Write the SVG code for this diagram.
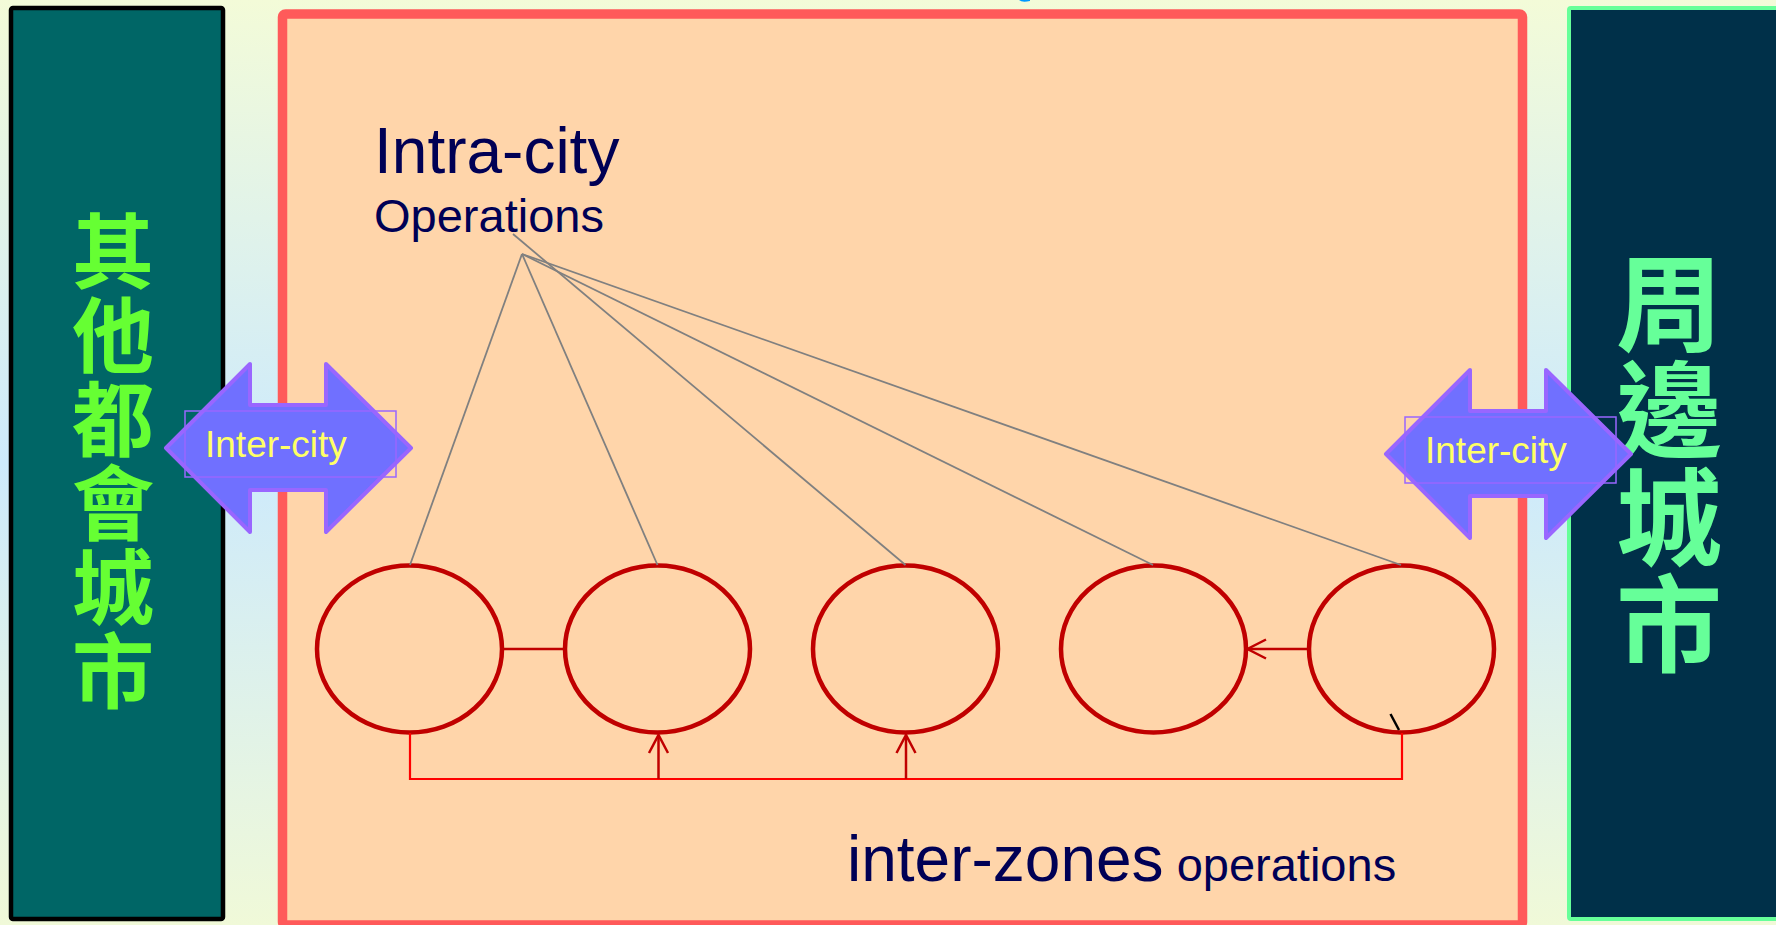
<svg xmlns="http://www.w3.org/2000/svg" width="1776" height="925" viewBox="0 0 1776 925">
  <defs>
    <linearGradient id="bg" x1="0" y1="0" x2="0" y2="1">
      <stop offset="0" stop-color="#f3fbd8"/>
      <stop offset="0.5" stop-color="#cdeafc"/>
      <stop offset="1" stop-color="#f0f9d8"/>
    </linearGradient>
    <path id="dblArrow" d="M166,448 L250,364 L250,405 L326,405 L326,364 L411,448 L326,532 L326,490 L250,490 L250,532 Z"/>
  </defs>
  <style>
    .cjk { font-family: "Noto Sans CJK TC", "Noto Sans CJK SC", sans-serif; font-weight: bold; text-anchor: middle; }
    .lbl { font-family: "Liberation Sans", Arial, sans-serif; fill: #000055; }
    .zone { fill: none; stroke: #c00000; stroke-width: 4.5; }
    .gray { stroke: #808080; stroke-width: 1.8; fill: none; }
    .dark { stroke: #c00000; stroke-width: 2.5; fill: none; }
    .red { stroke: #ff0000; stroke-width: 2.2; fill: none; }
    .arrowShape { fill: #7070ff; stroke: #9966ff; stroke-width: 4; stroke-linejoin: round; }
    .arrowBox { fill: none; stroke: #9966ff; stroke-width: 1.5; }
    .arrowText { font-family: "Liberation Sans", Arial, sans-serif; font-size: 37px; fill: #ffff66; }
  </style>

  <!-- background -->
  <rect x="0" y="0" width="1776" height="925" fill="url(#bg)"/>
  <!-- descender tail of the title above the frame -->
  <path d="M1019,0 Q1022,3 1030,1 L1030,0 Z" fill="#0099ff"/>

  <!-- other metropolitan cities -->
  <g id="node-other-cities">
    <rect x="11" y="8" width="212" height="911" rx="2" fill="#006666" stroke="#000000" stroke-width="4.5"/>
    <text class="cjk" font-size="82" fill="#66ff33"><tspan x="113" y="282">其</tspan><tspan x="113" y="366">他</tspan><tspan x="113" y="450">都</tspan><tspan x="113" y="534">會</tspan><tspan x="113" y="618">城</tspan><tspan x="113" y="702">市</tspan></text>
  </g>

  <!-- city area -->
  <g id="node-city">
    <rect x="282.5" y="14" width="1240" height="911" rx="3" fill="#ffd5aa" stroke="#ff5a5a" stroke-width="9.5"/>
    <text class="lbl" x="374" y="173" font-size="64">Intra-city</text>
    <text class="lbl" x="374" y="232" font-size="47">Operations</text>
    <text class="lbl" x="847" y="881"><tspan font-size="64">inter-zones</tspan><tspan font-size="47"> operations</tspan></text>
  </g>

  <!-- surrounding cities -->
  <g id="node-surrounding-cities">
    <rect x="1569" y="8" width="220" height="911" rx="2" fill="#003049" stroke="#66ff99" stroke-width="4"/>
    <text class="cjk" font-size="106" fill="#66ff99"><tspan x="1669" y="343">周</tspan><tspan x="1669" y="450">邊</tspan><tspan x="1669" y="557">城</tspan><tspan x="1669" y="664">市</tspan></text>
  </g>

  <!-- zones -->
  <g id="node-zone-1"><ellipse class="zone" cx="409.5" cy="649" rx="92.5" ry="83.5"/></g>
  <g id="node-zone-2"><ellipse class="zone" cx="657.5" cy="649" rx="92.5" ry="83.5"/></g>
  <g id="node-zone-3"><ellipse class="zone" cx="905.5" cy="649" rx="92.5" ry="83.5"/></g>
  <g id="node-zone-4"><ellipse class="zone" cx="1153.5" cy="649" rx="92.5" ry="83.5"/></g>
  <g id="node-zone-5"><ellipse class="zone" cx="1401.5" cy="649" rx="92.5" ry="83.5"/></g>

  <!-- connectors -->
  <g id="connectors">
    <!-- intra-city fan -->
    <line class="gray" x1="522" y1="254" x2="410" y2="565"/>
    <line class="gray" x1="522" y1="254" x2="657.5" y2="565"/>
    <line class="gray" x1="513" y1="234" x2="905.5" y2="565"/>
    <line class="gray" x1="522" y1="254" x2="1153" y2="565"/>
    <line class="gray" x1="522" y1="254" x2="1401" y2="565"/>

    <!-- zone to zone -->
    <line class="dark" x1="502" y1="649" x2="565" y2="649"/>
    <line class="dark" x1="1309" y1="649" x2="1248" y2="649"/>
    <polyline class="dark" points="1266,639.5 1247.5,649 1266,658.5"/>

    <!-- inter-zones loop -->
    <polyline class="red" points="410,733 410,779 1402,779 1402,733"/>
    <line class="dark" x1="658.5" y1="779" x2="658.5" y2="736"/>
    <polyline class="dark" points="649,753 658.5,735 668,753"/>
    <line class="dark" x1="906" y1="779" x2="906" y2="736"/>
    <polyline class="dark" points="896.5,753 906,735 915.5,753"/>
    <line x1="1390.5" y1="714" x2="1399" y2="730" stroke="#000000" stroke-width="2.5"/>
  </g>

  <!-- inter-city exchanges -->
  <g id="node-intercity-left">
    <use href="#dblArrow" class="arrowShape"/>
    <rect class="arrowBox" x="185" y="411" width="211" height="66"/>
    <text class="arrowText" x="205" y="457">Inter-city</text>
  </g>
  <g id="node-intercity-right" transform="translate(1220,6)">
    <use href="#dblArrow" class="arrowShape"/>
    <rect class="arrowBox" x="185" y="411" width="211" height="66"/>
    <text class="arrowText" x="205" y="457">Inter-city</text>
  </g>
</svg>
